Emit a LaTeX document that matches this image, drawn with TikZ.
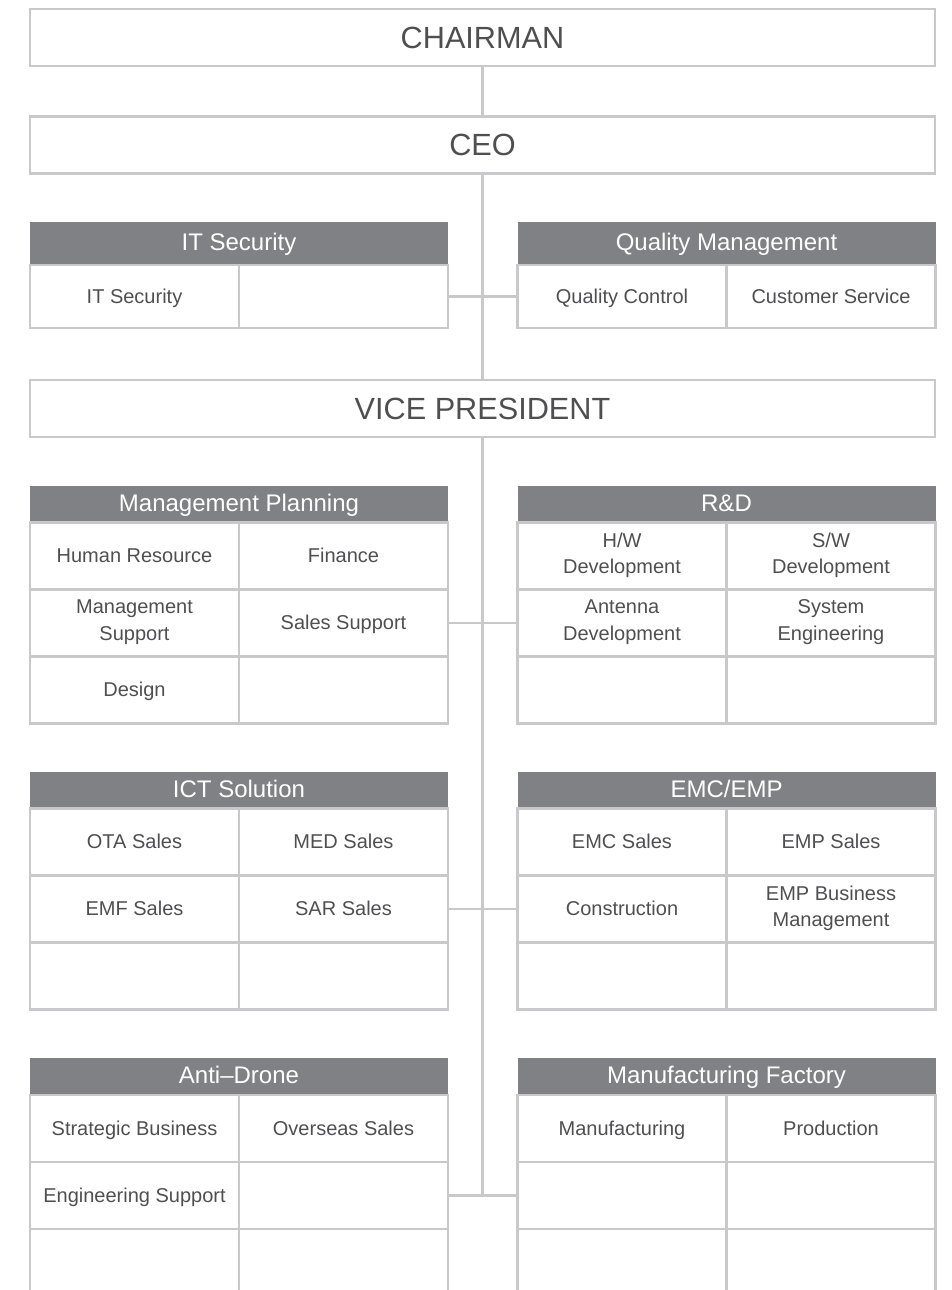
\documentclass[tikz,border=0pt]{standalone}
\usepackage{fontspec}
\setmainfont{Liberation Sans}
\usetikzlibrary{positioning}

\definecolor{framegray}{HTML}{C9C9CB}
\definecolor{headgray}{HTML}{808184}
\definecolor{textgray}{HTML}{4F4F51}

\newcommand\cellstrut{\rule[-4pt]{0pt}{18pt}}
\newcommand\headstrut{\rule[-4pt]{0pt}{19pt}}

\tikzset{
  topbox/.style={draw=framegray,line width=2.2pt,fill=white,inner sep=0pt,
    minimum width=678.75pt,minimum height=42.75pt,text=textgray,
    font=\fontsize{23}{26}\selectfont},
  headbox/.style={fill=headgray,inner sep=0pt,outer sep=0pt,
    minimum width=313.5pt,minimum height=27.75pt,text=white,
    font=\fontsize{18}{20}\selectfont,execute at begin node=\headstrut},
  cellbox/.style={draw=framegray,line width=1.9pt,inner sep=0pt,outer sep=0pt,
    minimum width=156.75pt,text=textgray,align=center,
    font=\fontsize{15}{20}\selectfont,
    execute at begin node=\cellstrut,execute at end node=\cellstrut},
  link/.style={draw=framegray,line width=1.9pt}
}

% cells under a header: [height]{header}{row/col/text,...}
\newcommand\deptcells[3][50.25pt]{%
  \foreach \r/\c/\t in {#3}{
    \node[cellbox,minimum height=#1,anchor=north west] (#2-\r\c)
      at ([xshift={(\c-1)*156.75pt},yshift={-(\r-1)*#1}]#2.south west) {\t};
  }}

\begin{document}
\begin{tikzpicture}[x=0.75pt,y=-0.75pt]
\useasboundingbox (0,0) rectangle (952,1290);
\clip (0,0) rectangle (952,1290);

% top levels
\node[topbox] (chair) at (482.5,37.5) {CHAIRMAN};
\node[topbox] (ceo) at (482.5,145) {CEO};
\node[topbox] (vp) at (482.5,408.5) {VICE PRESIDENT};

% staff under the CEO
\node[headbox,minimum height=32.25pt] (it) at (239,243.5) {IT Security};
\deptcells[47.25pt]{it}{1/1/IT Security, 1/2/{}}
\node[headbox,minimum height=32.25pt] (qm) at (726.5,243.5) {Quality Management};
\deptcells[47.25pt]{qm}{1/1/Quality Control, 1/2/Customer Service}

% divisions under the vice president
\node[headbox] (mp) at (239,504) {Management Planning};
\deptcells{mp}{1/1/Human Resource, 1/2/Finance, 2/1/{Management\\Support},
  2/2/Sales Support, 3/1/Design, 3/2/{}}
\node[headbox] (rd) at (726.5,504) {R\&D};
\deptcells{rd}{1/1/{H/W\\Development}, 1/2/{S/W\\Development},
  2/1/{Antenna\\Development}, 2/2/{System\\Engineering}, 3/1/{}, 3/2/{}}

\node[headbox] (ict) at (239,790) {ICT Solution};
\deptcells{ict}{1/1/OTA Sales, 1/2/MED Sales, 2/1/EMF Sales, 2/2/SAR Sales,
  3/1/{}, 3/2/{}}
\node[headbox] (emc) at (726.5,790) {EMC/EMP};
\deptcells{emc}{1/1/EMC Sales, 1/2/EMP Sales, 2/1/Construction,
  2/2/{EMP Business\\Management}, 3/1/{}, 3/2/{}}

\node[headbox] (ad) at (239,1076.5) {Anti--Drone};
\deptcells{ad}{1/1/Strategic Business, 1/2/Overseas Sales,
  2/1/Engineering Support, 2/2/{}, 3/1/{}, 3/2/{}}
\node[headbox] (mf) at (726.5,1076.5) {Manufacturing Factory};
\deptcells{mf}{1/1/Manufacturing, 1/2/Production, 2/1/{}, 2/2/{},
  3/1/{}, 3/2/{}}

% connectors
\path[link] (chair) -- (ceo);
\path[link] (ceo) -- (vp);
\coordinate (spine) at (vp.south |- ad-22.east);
\path[link] (vp) -- (spine);
\path[link] (it-12.east) -- (qm-11.west);
\path[link] (mp-22.east) -- (rd-21.west);
\path[link] (ict-22.east) -- (emc-21.west);
\path[link] (ad-22.east) -- (mf-21.west);
\end{tikzpicture}
\end{document}
